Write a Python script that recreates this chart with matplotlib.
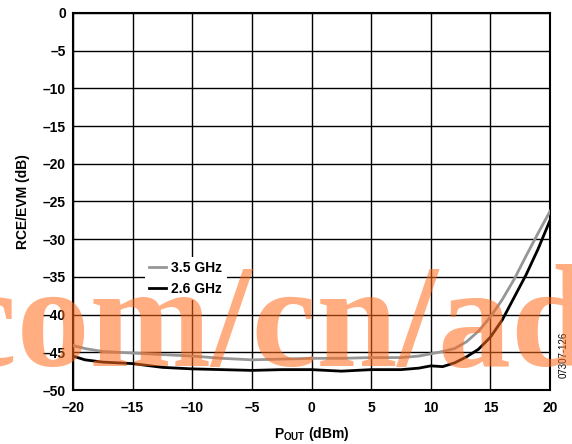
import numpy as np
import matplotlib
matplotlib.use("Agg")
import matplotlib.pyplot as plt

plt.rcParams['font.family'] = ['Liberation Sans', 'DejaVu Sans']
plt.rcParams['mathtext.fontset'] = 'custom'
plt.rcParams['mathtext.bf'] = 'Liberation Sans:bold'
plt.rcParams['mathtext.rm'] = 'Liberation Sans:bold'

# P_OUT (dBm) and RCE/EVM (dB)
pout = [-20, -19, -17.5, -15, -12.5, -10, -7.5, -5, -2.5, 0, 2.5, 5, 7.5, 9,
        10, 11, 12, 13, 14, 15, 16, 17, 18, 19, 20]
evm_35 = [-44.1, -44.5, -44.9, -45.1, -45.3, -45.5, -45.8, -46.0, -45.9, -45.8,
          -45.8, -45.7, -45.7, -45.5, -45.2, -44.9, -44.5, -43.6, -42.2, -40.3,
          -38.0, -35.3, -32.2, -29.2, -26.3]
evm_26 = [-45.5, -46.0, -46.3, -46.5, -47.0, -47.2, -47.3, -47.4, -47.3, -47.3,
          -47.5, -47.3, -47.3, -47.1, -46.8, -46.9, -46.4, -45.6, -44.6, -43.0,
          -40.7, -37.7, -34.7, -31.3, -27.5]
labels = ['3.5 GHz', '2.6 GHz']

xticks = list(range(-20, 21, 5))
yticks = list(range(-50, 1, 5))

fig = plt.figure(figsize=(5.72, 4.44), dpi=100)
ax = fig.add_axes([73/572, 1 - 390/444, 477/572, 377/444])

ax.plot(pout, evm_35, color='#969696', lw=2.0, label=labels[0], zorder=3)
ax.plot(pout, evm_26, color='black', lw=2.0, label=labels[1], zorder=3)

ax.set_xlim(-20, 20)
ax.set_ylim(-50, 0)
ax.set_xticks(xticks)
ax.set_yticks(yticks)
ax.set_xticklabels([str(t).replace('-', '\u2013') for t in xticks])
ax.set_yticklabels([str(t).replace('-', '\u2013') for t in yticks])
ax.tick_params(length=0, labelsize=10)
ax.tick_params(axis='x', pad=8)
ax.tick_params(axis='y', pad=5)
for lab in ax.get_xticklabels() + ax.get_yticklabels():
    lab.set_fontweight('bold')
ax.grid(True, color='black', lw=1.0)
ax.set_axisbelow(True)
for s in ax.spines.values():
    s.set_linewidth(1.5)

ax.set_xlabel(r'P$_{\mathbf{OUT}}$ (dBm)', fontsize=10, fontweight='bold', labelpad=7)
ax.set_ylabel('RCE/EVM (dB)', fontsize=10, fontweight='bold', labelpad=9)

leg = ax.legend(loc='upper left', bbox_to_anchor=(0.151, 0.353), frameon=True,
                fancybox=False, edgecolor='none', facecolor='white', framealpha=1,
                prop={'weight': 'bold', 'size': 10}, handlelength=1.2,
                handletextpad=0.4, labelspacing=0.5, borderpad=0.3,
                borderaxespad=0)
leg.set_zorder(5)

fig.text(564/572, 1 - 355/444, '07307-126', rotation=90, fontsize=7,
         ha='center', va='center')

# watermark
fig.text(-48/572, 1 - 366/444, 'com/cn/ad', fontsize=105, family='Liberation Serif',
         fontweight='bold', color='#FF6A1A', alpha=0.55, ha='left', va='baseline',
         zorder=10)

fig.savefig('out.png', dpi=100)
